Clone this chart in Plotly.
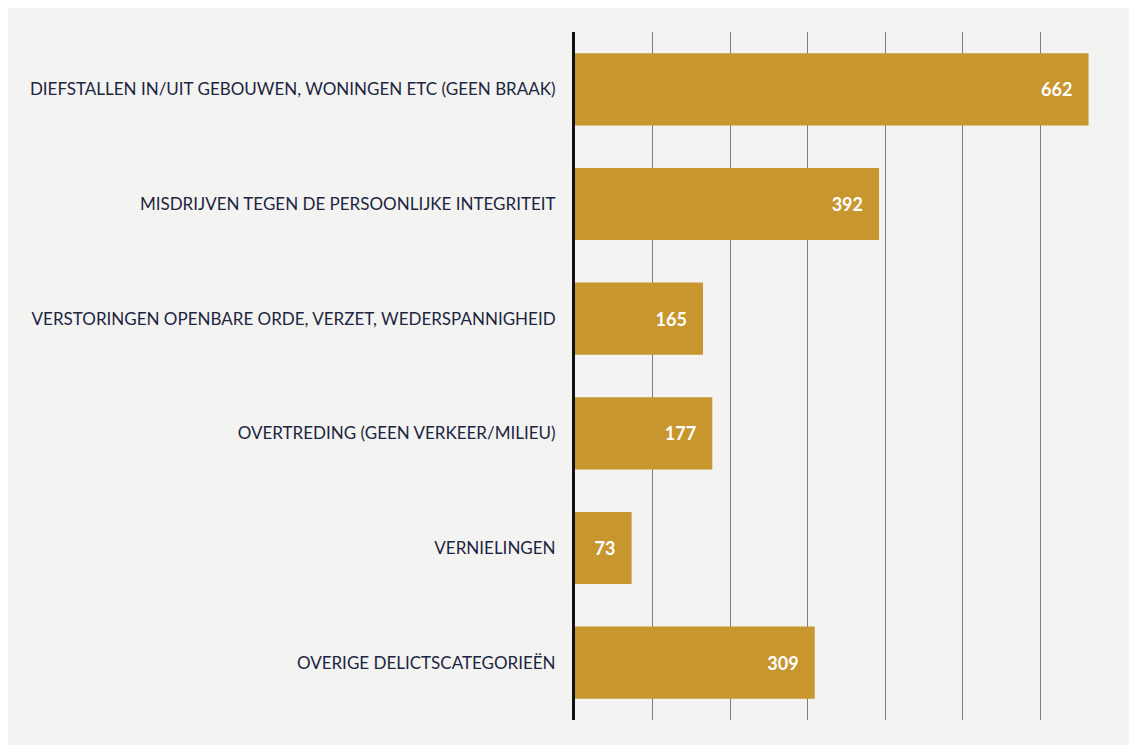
import plotly.graph_objects as go

categories = [
    "DIEFSTALLEN IN/UIT GEBOUWEN, WONINGEN ETC (GEEN BRAAK)",
    "MISDRIJVEN TEGEN DE PERSOONLIJKE INTEGRITEIT",
    "VERSTORINGEN OPENBARE ORDE, VERZET, WEDERSPANNIGHEID",
    "OVERTREDING (GEEN VERKEER/MILIEU)",
    "VERNIELINGEN",
    "OVERIGE DELICTSCATEGORIEËN",
]
values = [662, 392, 165, 177, 73, 309]

fig = go.Figure(go.Bar(
    x=values,
    y=categories,
    orientation="h",
    marker=dict(color="#C8962F", line=dict(width=0)),
    text=[str(v) + "\u00a0\u00a0\u00a0" for v in values],
    textposition="inside",
    insidetextanchor="end",
    textfont=dict(color="white", size=18, family="Lato", weight="bold"),
    cliponaxis=False,
))

fig.update_layout(
    width=1129, height=737,
    margin=dict(l=567, r=19, t=24, b=25),
    paper_bgcolor="#f3f3f1",
    plot_bgcolor="rgba(0,0,0,0)",
    bargap=0.37,
    showlegend=False,
    font=dict(family="Lato", color="#1c2541", size=17),
    xaxis=dict(range=[0, 700], dtick=100, showticklabels=False,
               showgrid=True, gridcolor="#7f7f7f", gridwidth=1,
               zeroline=False, showline=False, fixedrange=True),
    yaxis=dict(autorange="reversed", showline=True, linecolor="#111111",
               linewidth=3, ticks="", ticklabelstandoff=13,
               tickfont=dict(family="Lato", size=17, color="#1c2541")),
)

fig.write_html("out.html")
